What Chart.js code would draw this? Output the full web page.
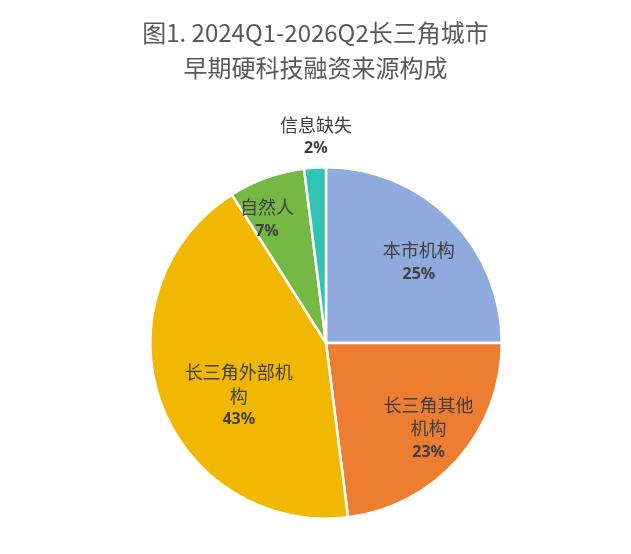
<!DOCTYPE html>
<html>
<head>
<meta charset="utf-8">
<script src="https://cdn.jsdelivr.net/npm/chart.js@4"></script>
<style>
  html, body { margin: 0; padding: 0; background: #fff; }
  #wrap { position: relative; width: 631px; height: 554px; }
  #titulo {
    position: absolute; left: 0; top: 13.5px; width: 631px;
    text-align: center; color: #595959;
    font-family: "Noto Sans CJK SC"; font-size: 24px; line-height: 35px;
  }
</style>
</head>
<body>
<div id="wrap">
  <div id="titulo"></div>
  <canvas id="graficoTorta"></canvas>
</div>
<script>
// Datos del gráfico
const categorias = ['本市机构', '长三角其他机构', '长三角外部机构', '自然人', '信息缺失'];
const porcentajes = [25, 23, 43, 7, 2];
// Cómo se parte cada etiqueta en líneas
const lineasEtiqueta = [['本市机构'], ['长三角其他', '机构'], ['长三角外部机', '构'], ['自然人'], ['信息缺失']];
const colores = ['#8FAADC', '#ED7D31', '#F2B800', '#76B844', '#33C3B5'];
const titulo = ['图1. 2024Q1-2026Q2长三角城市', '早期硬科技融资来源构成'];

// Posición de las etiquetas: fracción del radio y desplazamiento angular (grados)
const radioEtiqueta = [0.70, 0.76, 0.58, 0.78, 1.175];
const giroEtiqueta = [4, -1.6, -11.4, -5.7, 0.8];

// Título como texto HTML
document.getElementById('titulo').innerHTML = titulo.join('<br>');

// Plugin para dibujar las etiquetas de datos
const etiquetasPlugin = {
    id: 'etiquetasTorta',
    afterDatasetsDraw(chart) {
        const ctx = chart.ctx;
        const meta = chart.getDatasetMeta(0);
        ctx.save();
        ctx.textAlign = 'center';
        ctx.textBaseline = 'middle';
        ctx.fillStyle = '#404040';
        meta.data.forEach((arc, i) => {
            const mid = (arc.startAngle + arc.endAngle) / 2 + giroEtiqueta[i] * Math.PI / 180;
            const r = arc.outerRadius * radioEtiqueta[i];
            const x = arc.x + Math.cos(mid) * r;
            const lineas = lineasEtiqueta[i];
            const total = lineas.length + 1;
            const alto = 23.5;
            let y = arc.y + Math.sin(mid) * r - (total - 1) * alto / 2;
            ctx.font = '18px "Noto Sans CJK SC"';
            lineas.forEach(l => {
                ctx.fillText(l, x, y);
                y += alto;
            });
            ctx.font = 'bold 16px "Noto Sans", "DejaVu Sans"';
            ctx.fillText(porcentajes[i] + '%', x, y);
        });
        ctx.restore();
    }
};

document.addEventListener('DOMContentLoaded', function() {
    const ctxTorta = document.getElementById('graficoTorta').getContext('2d');
    new Chart(ctxTorta, {
        type: 'pie',
        data: {
            labels: categorias,
            datasets: [{
                data: porcentajes,
                backgroundColor: colores,
                borderColor: '#fff',
                borderWidth: 2.5
            }]
        },
        options: {
            responsive: true,
            maintainAspectRatio: false,
            animation: false,
            layout: {
                padding: { left: 21, right: 0, top: 166, bottom: 34 }
            },
            plugins: {
                legend: { display: false },
                tooltip: { enabled: false },
                title: { display: false }
            }
        },
        plugins: [etiquetasPlugin]
    });
});
</script>
</body>
</html>
